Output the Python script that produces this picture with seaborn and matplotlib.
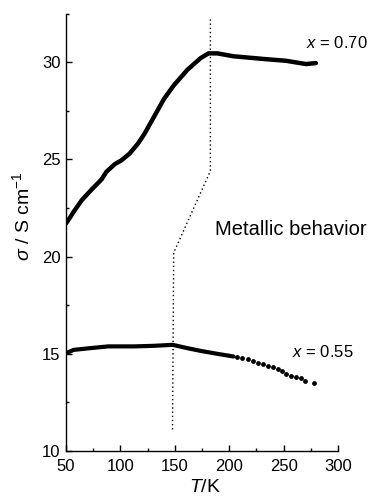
import matplotlib
matplotlib.use("Agg")
import matplotlib.pyplot as plt
import seaborn as sns
import pandas as pd

# Conductivity vs temperature, x = 0.70
t_070 = [50, 53, 57, 64.5, 73.6, 82.7, 87, 94.8, 101, 108.5, 116, 122, 131, 140,
         149, 161.5, 173.6, 181, 189, 204, 234, 252, 270.6, 279.7]
s_070 = [21.7, 21.95, 22.3, 22.9, 23.45, 23.97, 24.35, 24.75, 24.95, 25.3, 25.8, 26.3,
         27.2, 28.1, 28.8, 29.6, 30.2, 30.45, 30.45, 30.3, 30.15, 30.07, 29.9, 29.95]

# Conductivity vs temperature, x = 0.55 (continuous part)
t_055 = [50, 57, 70.6, 88.8, 113, 131, 148, 161.5, 173.6, 188.8, 204]
s_055 = [15.03, 15.2, 15.28, 15.38, 15.38, 15.41, 15.46, 15.29, 15.15, 15.0, 14.86]

# x = 0.55, sparse high-temperature points
t_055_pts = [207, 211.4, 217.5, 222, 226.5, 231, 235.6, 240, 244.5, 248.5, 252,
             256.7, 261, 265.6, 269.6, 277.7]
s_055_pts = [14.83, 14.78, 14.73, 14.64, 14.55, 14.47, 14.38, 14.31, 14.21, 14.14,
             13.97, 13.87, 13.8, 13.75, 13.62, 13.49]

# Boundary of the metallic region
t_bound = [182.7, 182.7, 149, 147.9]
s_bound = [32.2, 24.4, 20.2, 11.1]

x_ticks = [50, 100, 150, 200, 250, 300]
y_ticks = [10, 15, 20, 25, 30]

sns.set_style("ticks")
plt.rcParams["font.family"] = ["Liberation Sans", "DejaVu Sans"]
plt.rcParams["mathtext.fontset"] = "custom"
plt.rcParams["mathtext.rm"] = "Liberation Sans"
plt.rcParams["mathtext.it"] = "Liberation Sans:italic"
plt.rcParams["text.color"] = "black"
plt.rcParams["axes.labelcolor"] = "black"

fig = plt.figure(figsize=(3.76, 4.97), dpi=100)
ax = fig.add_axes([66 / 376, 46 / 497, (338 - 66) / 376, (451 - 13.5) / 497])

df70 = pd.DataFrame({"T": t_070, "sigma": s_070})
df55 = pd.DataFrame({"T": t_055, "sigma": s_055})
df55p = pd.DataFrame({"T": t_055_pts, "sigma": s_055_pts})
dfb = pd.DataFrame({"T": t_bound, "sigma": s_bound})

sns.lineplot(data=df70, x="T", y="sigma", ax=ax, color="black", lw=3.2,
             sort=False, estimator=None, solid_capstyle="round")
sns.lineplot(data=df55, x="T", y="sigma", ax=ax, color="black", lw=3.0,
             sort=False, estimator=None, solid_capstyle="round")
sns.scatterplot(data=df55p, x="T", y="sigma", ax=ax, color="black", s=12,
                linewidth=0)
sns.lineplot(data=dfb, x="T", y="sigma", ax=ax, color="black", lw=1.0,
             sort=False, estimator=None, linestyle=(0, (1, 2)))

ax.set_xlim(50, 300)
ax.set_ylim(10, 32.5)
ax.set_xticks(x_ticks)
ax.set_yticks(y_ticks)
ax.set_xticks([75, 125, 175, 225, 275], minor=True)
ax.set_yticks([12.5, 17.5, 22.5, 27.5, 32.5], minor=True)
ax.tick_params(which="major", direction="in", length=4.5, width=1.0,
               labelsize=12, pad=4, color="black", labelcolor="black")
ax.tick_params(which="minor", direction="in", length=2.3, width=1.0,
               color="black")
ax.tick_params(axis="x", which="major", pad=6)

for side in ["top", "right"]:
    ax.spines[side].set_visible(False)
for side in ["left", "bottom"]:
    ax.spines[side].set_linewidth(1.0)
    ax.spines[side].set_color("black")

ax.set_xlabel(r"$T$/K", fontsize=14)
ax.set_ylabel(r"$\sigma$ / S cm$^{-1}$", fontsize=14)
ax.xaxis.set_label_coords(0.51, -0.065)
ax.yaxis.set_label_coords(-0.12, 0.537)

ax.text(271, 30.72, r"$x$ = 0.70", fontsize=12, va="baseline", ha="left",
        clip_on=False)
ax.text(187.3, 21.13, "Metallic behavior", fontsize=14.5, va="baseline",
        ha="left", clip_on=False)
ax.text(258, 14.85, r"$x$ = 0.55", fontsize=12, va="baseline", ha="left",
        clip_on=False)

fig.savefig("out.png", dpi=100)
